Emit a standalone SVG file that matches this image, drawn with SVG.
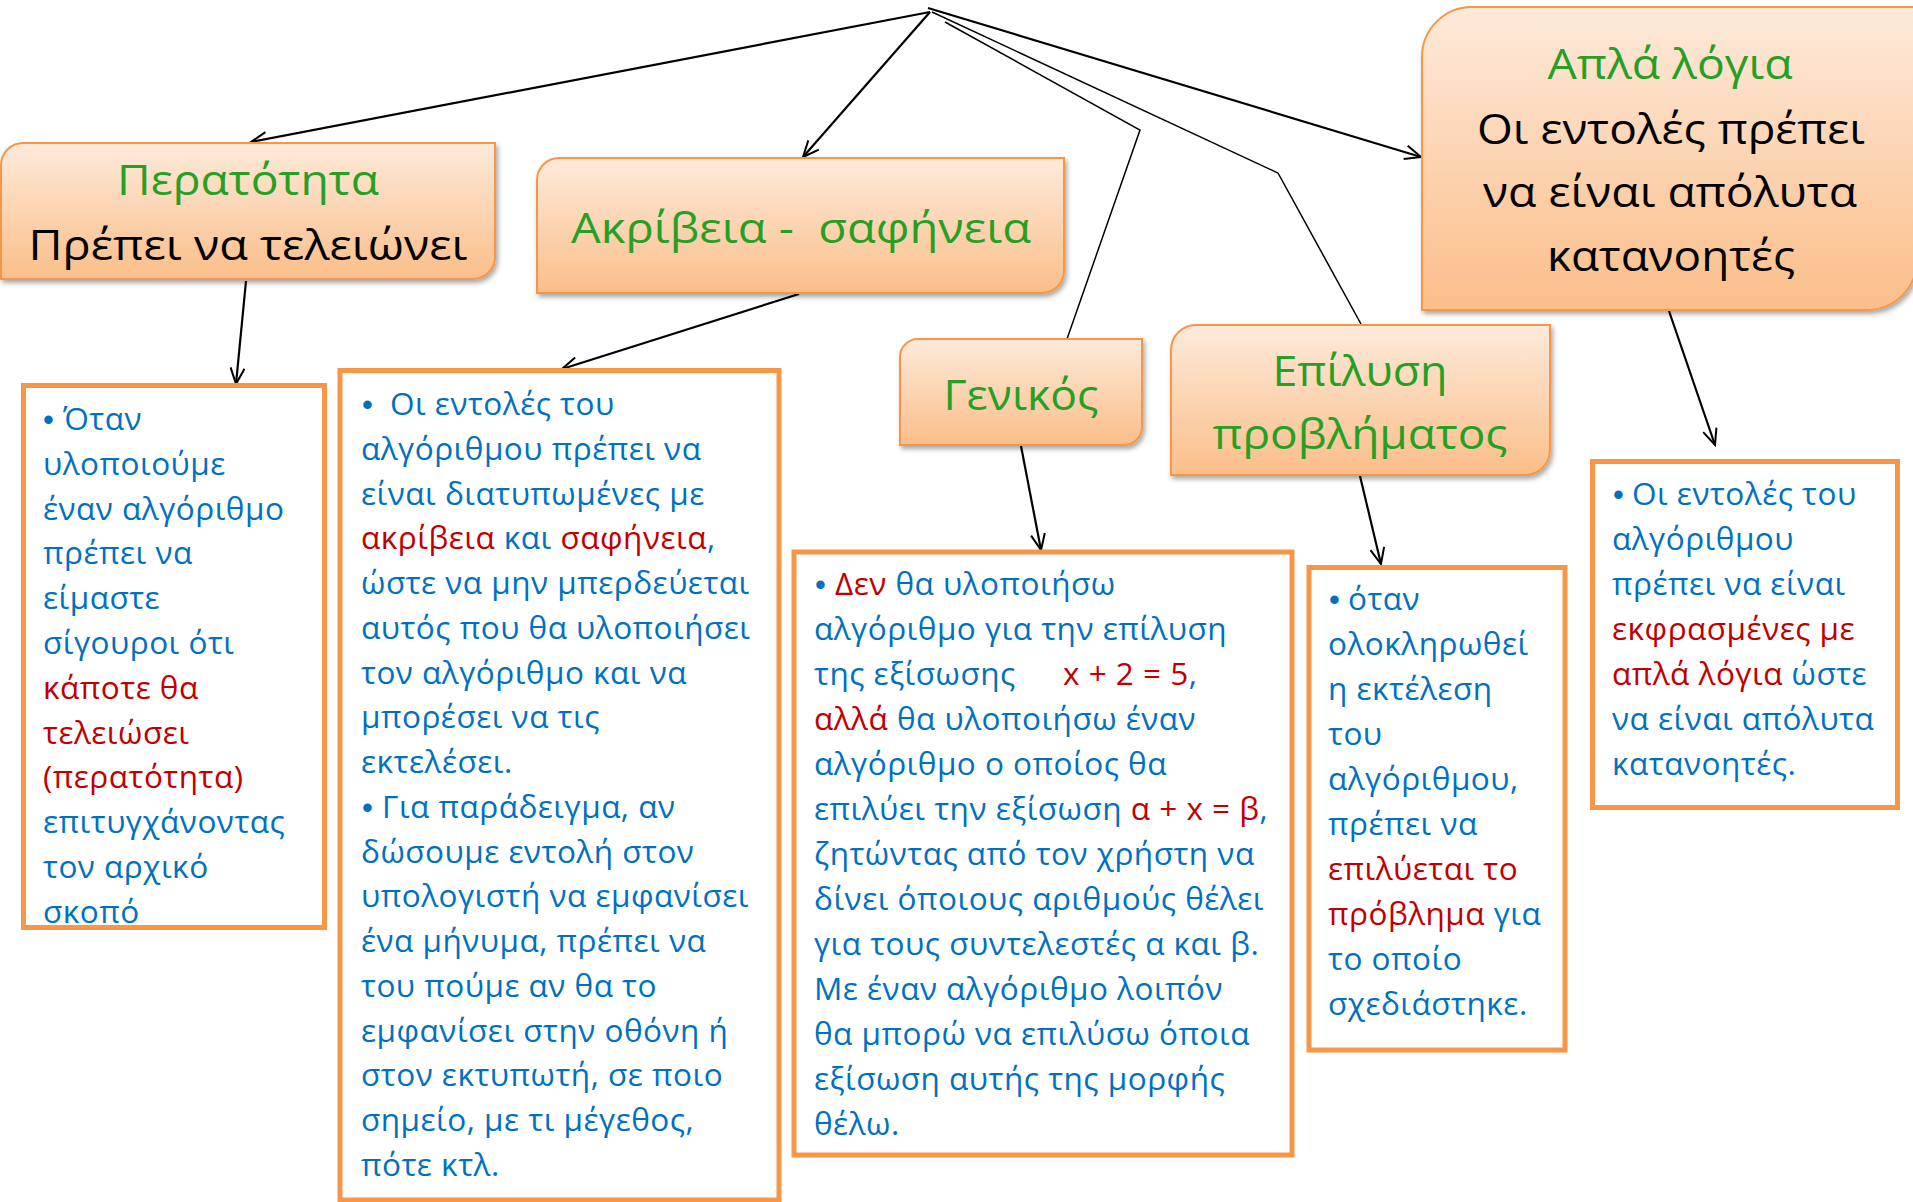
<svg xmlns="http://www.w3.org/2000/svg" width="1913" height="1202" viewBox="0 0 1913 1202">
<style>
.hd{font-family:"Open Sans","Noto Sans","DejaVu Sans",sans-serif;font-size:42px;text-anchor:middle;white-space:pre}
.g{fill:#26A024}
.k{fill:#000}
.tx{font-family:"Open Sans","Noto Sans","DejaVu Sans",sans-serif;font-size:31.5px;letter-spacing:0.5px;fill:#0070C0;white-space:pre}
.r{fill:#C00000}
.bl{font-family:"Liberation Sans",Arial,sans-serif;font-size:31px;fill:#0070C0}
.hbox{fill:url(#hg);stroke:#F79646;stroke-width:2;filter:url(#sh)}
.cbox{fill:#fff;stroke:#F79646;stroke-width:5}
.cn{fill:none;stroke:#000;stroke-width:2.2}
.cn2{fill:none;stroke:#000;stroke-width:1.5}
</style>
<defs>
<linearGradient id="hg" x1="0" y1="0" x2="0" y2="1">
<stop offset="0" stop-color="#FDEADB"/>
<stop offset="1" stop-color="#FBBE89"/>
</linearGradient>
<filter id="sh" x="-5%" y="-5%" width="115%" height="125%">
<feDropShadow dx="2" dy="3" stdDeviation="2.5" flood-color="#000" flood-opacity="0.35"/>
</filter>
<marker id="ah" markerUnits="userSpaceOnUse" markerWidth="20" markerHeight="16" viewBox="0 0 20 16" refX="17" refY="8" orient="auto">
<path d="M1,1 L17,8 L1,15" fill="none" stroke="#000" stroke-width="2"/>
</marker>
</defs>
<rect width="1913" height="1202" fill="#fff"/>

<g id="connectors">
<path class="cn" d="M930,12 L251,142" marker-end="url(#ah)"/>
<path class="cn" d="M930,12 L803,157" marker-end="url(#ah)"/>
<path class="cn" d="M928,8 L1421,157" marker-end="url(#ah)"/>
<path class="cn2" d="M945,22 L1140,130 L1067,339"/>
<path class="cn2" d="M932,12 L1278,173 L1361,324"/>
<path class="cn" d="M246,281 L236,384" marker-end="url(#ah)"/>
<path class="cn" d="M799,294 L562,369" marker-end="url(#ah)"/>
<path class="cn" d="M1021,446 L1041,550" marker-end="url(#ah)"/>
<path class="cn" d="M1360,476 L1381,564" marker-end="url(#ah)"/>
<path class="cn" d="M1669,311 L1715,445" marker-end="url(#ah)"/>
</g>

<g id="node-peratotita">
<path class="hbox" d="M23,143 H495 V257 A22,22 0 0 1 473,279 H1 V165 A22,22 0 0 1 23,143 Z"/>
<text class="hd g" x="248" y="195" textLength="262" lengthAdjust="spacingAndGlyphs">Περατότητα</text>
<text class="hd k" x="248" y="260" textLength="439" lengthAdjust="spacingAndGlyphs">Πρέπει να τελειώνει</text>
</g>

<g id="node-akriveia">
<path class="hbox" d="M559,158 H1064 V271 A22,22 0 0 1 1042,293 H537 V180 A22,22 0 0 1 559,158 Z"/>
<text class="hd g" x="801" y="243" textLength="460" lengthAdjust="spacingAndGlyphs">Ακρίβεια -  σαφήνεια</text>
</g>

<g id="node-genikos">
<path class="hbox" d="M918,339 H1142 V427 A18,18 0 0 1 1124,445 H900 V357 A18,18 0 0 1 918,339 Z"/>
<text class="hd g" x="1021" y="410" textLength="155" lengthAdjust="spacingAndGlyphs">Γενικός</text>
</g>

<g id="node-epilysi">
<path class="hbox" d="M1196,325 H1550 V450 A25,25 0 0 1 1525,475 H1171 V350 A25,25 0 0 1 1196,325 Z"/>
<text class="hd g" x="1360" y="386" textLength="175" lengthAdjust="spacingAndGlyphs">Επίλυση</text>
<text class="hd g" x="1360" y="449" textLength="295" lengthAdjust="spacingAndGlyphs">προβλήματος</text>
</g>

<g id="node-apla">
<path class="hbox" d="M1472,7 H1917 V260 A50,50 0 0 1 1867,310 H1422 V57 A50,50 0 0 1 1472,7 Z"/>
<text class="hd g" x="1670" y="79" textLength="245" lengthAdjust="spacingAndGlyphs">Απλά λόγια</text>
<text class="hd k" x="1671" y="144" textLength="388" lengthAdjust="spacingAndGlyphs">Οι εντολές πρέπει</text>
<text class="hd k" x="1670" y="207" textLength="374" lengthAdjust="spacingAndGlyphs">να είναι απόλυτα</text>
<text class="hd k" x="1671" y="271" textLength="248" lengthAdjust="spacingAndGlyphs">κατανοητές</text>
</g>

<g id="node-box1">
<rect class="cbox" x="23.5" y="385.5" width="301" height="542"/>
<text class="bl" x="43" y="430">•</text>
<text class="tx" x="63" y="430">Όταν</text>
<text class="tx" x="43" y="474.8">υλοποιούμε</text>
<text class="tx" x="43" y="519.6">έναν αλγόριθμο</text>
<text class="tx" x="43" y="564.4">πρέπει να</text>
<text class="tx" x="43" y="609.2">είμαστε</text>
<text class="tx" x="43" y="654">σίγουροι ότι</text>
<text class="tx r" x="43" y="698.8">κάποτε θα</text>
<text class="tx r" x="43" y="743.6">τελειώσει</text>
<text class="tx r" x="43" y="788.4">(περατότητα)</text>
<text class="tx" x="43" y="833.2">επιτυγχάνοντας</text>
<text class="tx" x="43" y="878">τον αρχικό</text>
<text class="tx" x="43" y="922.8">σκοπό</text>
</g>

<g id="node-box2">
<rect class="cbox" x="340" y="370.5" width="439" height="829.5"/>
<text class="bl" x="362" y="415">•</text>
<text class="tx" x="390" y="415">Οι εντολές του</text>
<text class="tx" x="361" y="459.8">αλγόριθμου πρέπει να</text>
<text class="tx" x="361" y="504.5">είναι διατυπωμένες με</text>
<text class="tx" x="361" y="549.3"><tspan class="r">ακρίβεια</tspan> και <tspan class="r">σαφήνεια</tspan>,</text>
<text class="tx" x="361" y="594">ώστε να μην μπερδεύεται</text>
<text class="tx" x="361" y="638.8">αυτός που θα υλοποιήσει</text>
<text class="tx" x="361" y="683.5">τον αλγόριθμο και να</text>
<text class="tx" x="361" y="728.3">μπορέσει να τις</text>
<text class="tx" x="361" y="773">εκτελέσει.</text>
<text class="bl" x="362" y="817.8">•</text>
<text class="tx" x="382" y="817.8">Για παράδειγμα, αν</text>
<text class="tx" x="361" y="862.5">δώσουμε εντολή στον</text>
<text class="tx" x="361" y="907.3">υπολογιστή να εμφανίσει</text>
<text class="tx" x="361" y="952">ένα μήνυμα, πρέπει να</text>
<text class="tx" x="361" y="996.8">του πούμε αν θα το</text>
<text class="tx" x="361" y="1041.5">εμφανίσει στην οθόνη ή</text>
<text class="tx" x="361" y="1086.3">στον εκτυπωτή, σε ποιο</text>
<text class="tx" x="361" y="1131">σημείο, με τι μέγεθος,</text>
<text class="tx" x="361" y="1175.8">πότε κτλ.</text>
</g>

<g id="node-box3">
<rect class="cbox" x="794" y="552" width="498" height="603"/>
<text class="bl" x="815" y="595">•</text>
<text class="tx" x="835" y="595"><tspan class="r">Δεν</tspan> θα υλοποιήσω</text>
<text class="tx" x="814" y="640">αλγόριθμο για την επίλυση</text>
<text class="tx" x="814" y="685">της εξίσωσης</text>
<text class="tx" x="1063" y="685"><tspan class="r">x + 2 = 5</tspan>,</text>
<text class="tx" x="814" y="730"><tspan class="r">αλλά</tspan> θα υλοποιήσω έναν</text>
<text class="tx" x="814" y="775">αλγόριθμο ο οποίος θα</text>
<text class="tx" x="814" y="820">επιλύει την εξίσωση <tspan class="r">α + x = β</tspan>,</text>
<text class="tx" x="814" y="865">ζητώντας από τον χρήστη να</text>
<text class="tx" x="814" y="910">δίνει όποιους αριθμούς θέλει</text>
<text class="tx" x="814" y="955">για τους συντελεστές α και β.</text>
<text class="tx" x="814" y="1000">Με έναν αλγόριθμο λοιπόν</text>
<text class="tx" x="814" y="1045">θα μπορώ να επιλύσω όποια</text>
<text class="tx" x="814" y="1090">εξίσωση αυτής της μορφής</text>
<text class="tx" x="814" y="1135">θέλω.</text>
</g>

<g id="node-box4">
<rect class="cbox" x="1309" y="567.5" width="256" height="482.5"/>
<text class="bl" x="1329" y="610">•</text>
<text class="tx" x="1348" y="610">όταν</text>
<text class="tx" x="1328" y="655">ολοκληρωθεί</text>
<text class="tx" x="1328" y="700">η εκτέλεση</text>
<text class="tx" x="1328" y="745">του</text>
<text class="tx" x="1328" y="790">αλγόριθμου,</text>
<text class="tx" x="1328" y="835">πρέπει να</text>
<text class="tx r" x="1328" y="880">επιλύεται το</text>
<text class="tx" x="1328" y="925"><tspan class="r">πρόβλημα</tspan> για</text>
<text class="tx" x="1328" y="970">το οποίο</text>
<text class="tx" x="1328" y="1015">σχεδιάστηκε.</text>
</g>

<g id="node-box5">
<rect class="cbox" x="1592.5" y="461.5" width="305" height="346"/>
<text class="bl" x="1613" y="505">•</text>
<text class="tx" x="1632" y="505">Οι εντολές του</text>
<text class="tx" x="1612" y="550">αλγόριθμου</text>
<text class="tx" x="1612" y="595">πρέπει να είναι</text>
<text class="tx r" x="1612" y="640">εκφρασμένες με</text>
<text class="tx" x="1612" y="685"><tspan class="r">απλά λόγια</tspan> ώστε</text>
<text class="tx" x="1612" y="730">να είναι απόλυτα</text>
<text class="tx" x="1612" y="775">κατανοητές.</text>
</g>
</svg>
